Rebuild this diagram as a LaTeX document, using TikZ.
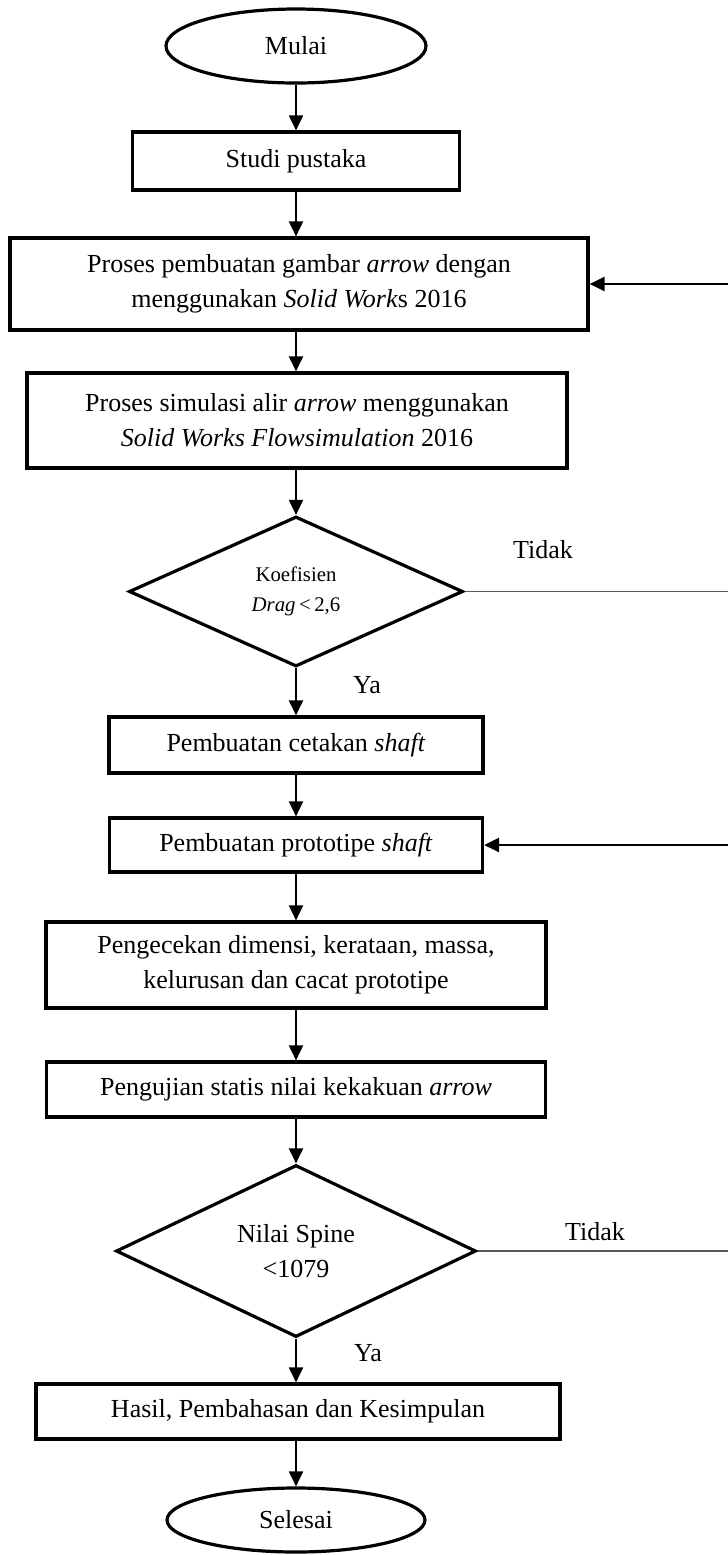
\documentclass[tikz,border=0pt]{standalone}
\usepackage{fontspec}
\setmainfont{Liberation Serif}
\usetikzlibrary{shapes.geometric}
\usetikzlibrary{arrows.meta}
\tikzset{process/.style={draw,line width=1.6pt,align=center,inner sep=0pt,
   font=\fontsize{13}{17.5}\selectfont},
 terminal/.style={process,ellipse},
 decision/.style={process,diamond},
 flow/.style={-{Triangle[length=7.5pt,width=7pt]},line width=1pt},
 loopback/.style={flow,line width=1.3pt},
 nopath/.style={line width=0.6pt,draw=black!65},
 answer/.style={font=\fontsize{13}{17.5}\selectfont},
 }

\begin{document}
\begin{tikzpicture}[x=0.5pt,y=-0.5pt]
    \useasboundingbox (0,0) rectangle (728,1555);
    % main column
    \node[terminal,minimum width=130pt,minimum height=37pt] (mulai) at (296,46) {Mulai};
    \node[process,minimum width=163.5pt,minimum height=29pt] (studi) at (296,161) {Studi pustaka};
    \node[process,minimum width=289pt,minimum height=46pt] (gambar) at (299,284)
        {Proses pembuatan gambar \textit{arrow} dengan\\menggunakan \textit{Solid Work}s 2016};
    \node[process,minimum width=270pt,minimum height=47.5pt] (simulasi) at (297,420.5)
        {Proses simulasi alir \textit{arrow} menggunakan\\\textit{Solid Works Flowsimulation} 2016};
    \node[decision,minimum width=167pt,minimum height=75pt,
        font=\fontsize{10.4}{15}\selectfont] (koef) at (296,591.5)
        {Koefisien\\\textit{Drag}\,<\,2,6};
    \node[process,minimum width=187pt,minimum height=28pt] (cetakan) at (296,745)
        {Pembuatan cetakan \textit{shaft}};
    \node[process,minimum width=186.5pt,minimum height=27pt] (prototipe) at (296,845)
        {Pembuatan prototipe \textit{shaft}};
    \node[process,minimum width=250pt,minimum height=43pt] (cek) at (296,965)
        {Pengecekan dimensi, kerataan, massa,\\kelurusan dan cacat prototipe};
    \node[process,minimum width=249.5pt,minimum height=27.5pt] (uji) at (296,1089.5)
        {Pengujian statis nilai kekakuan \textit{arrow}};
    \node[decision,minimum width=180pt,minimum height=86pt] (spine) at (296,1251)
        {Nilai Spine\\<1079};
    \node[process,minimum width=262pt,minimum height=27.5pt] (hasil) at (298,1411.5)
        {Hasil, Pembahasan dan Kesimpulan};
    \node[terminal,minimum width=129pt,minimum height=32pt] (selesai) at (296,1520) {Selesai};

    \draw[flow] (mulai) -- (studi);
    \draw[flow] (studi) -- (gambar.north -| studi);
    \draw[flow] (gambar.south -| studi) -- (simulasi.north -| studi);
    \draw[flow] (simulasi.south -| studi) -- (koef);
    \draw[flow] (koef) -- (cetakan);
    \draw[flow] (cetakan) -- (prototipe);
    \draw[flow] (prototipe) -- (cek);
    \draw[flow] (cek) -- (uji);
    \draw[flow] (uji) -- (spine);
    \draw[flow] (spine) -- (hasil.north -| spine);
    \draw[flow] (hasil.south -| spine) -- (selesai);

    % answers
    \node[answer] (ya1) at (367,685) {Ya};
    \node[answer] (ya2) at (368,1353) {Ya};
    \node[answer] (tidak1) at (543,550) {Tidak};
    \node[answer] (tidak2) at (595,1232) {Tidak};

    % return branches, cut at the right edge
    \coordinate (koefout) at (728,591.5);
    \coordinate (gambarin) at (728,284);
    \coordinate (spineout) at (728,1251);
    \coordinate (prototipein) at (728,845);
    \draw[nopath] (koef.east) -- (koefout);
    \draw[loopback] (gambarin) -- (gambar.east);
    \draw[nopath] (spine.east) -- (spineout);
    \draw[loopback] (prototipein) -- (prototipe.east);
\end{tikzpicture}
\end{document}
